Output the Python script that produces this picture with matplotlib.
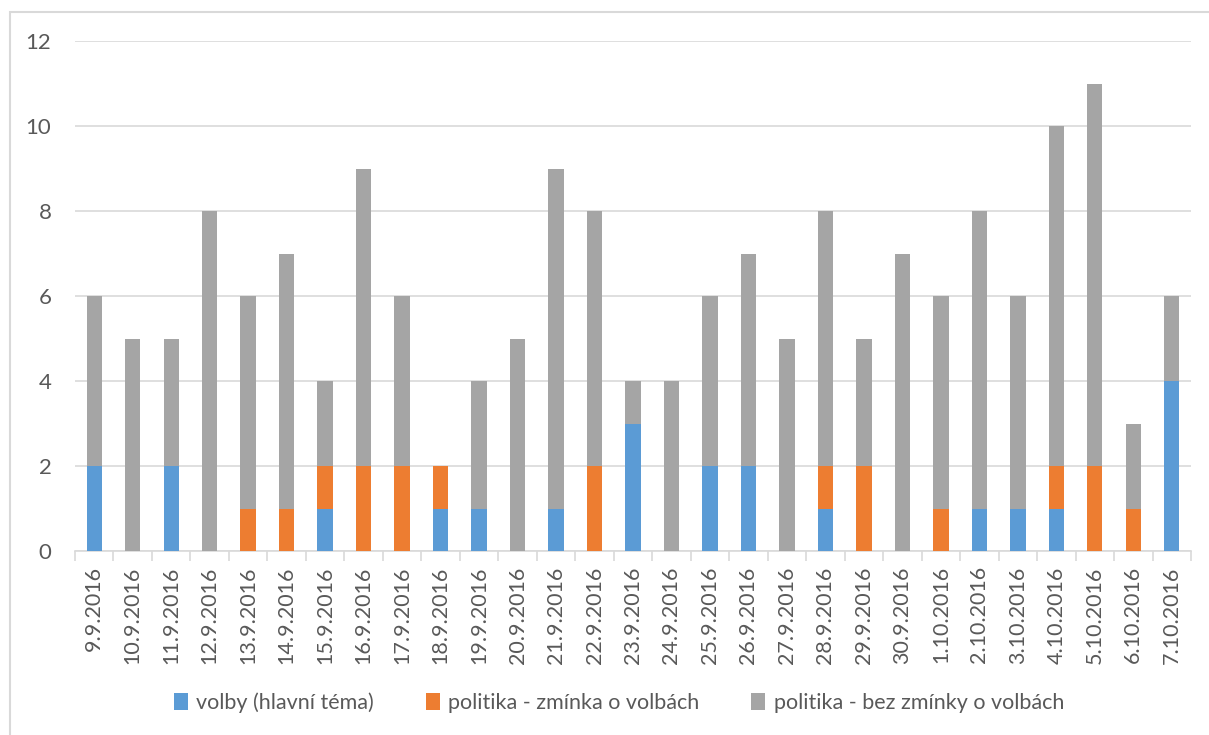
import numpy as np
import matplotlib.pyplot as plt
from matplotlib.patches import Rectangle

plt.rcParams['font.family'] = ['Lato', 'DejaVu Sans']

dates = ['9.9.2016', '10.9.2016', '11.9.2016', '12.9.2016', '13.9.2016', '14.9.2016',
         '15.9.2016', '16.9.2016', '17.9.2016', '18.9.2016', '19.9.2016', '20.9.2016',
         '21.9.2016', '22.9.2016', '23.9.2016', '24.9.2016', '25.9.2016', '26.9.2016',
         '27.9.2016', '28.9.2016', '29.9.2016', '30.9.2016', '1.10.2016', '2.10.2016',
         '3.10.2016', '4.10.2016', '5.10.2016', '6.10.2016', '7.10.2016']
volby = [2, 0, 2, 0, 0, 0, 1, 0, 0, 1, 1, 0, 1, 0, 3, 0, 2, 2, 0, 1, 0, 0, 0, 1, 1, 1, 0, 0, 4]
zminka = [0, 0, 0, 0, 1, 1, 1, 2, 2, 1, 0, 0, 0, 2, 0, 0, 0, 0, 0, 1, 2, 0, 1, 0, 0, 1, 2, 1, 0]
bez = [4, 5, 3, 8, 5, 6, 2, 7, 4, 0, 3, 5, 8, 6, 1, 4, 4, 5, 5, 6, 3, 7, 5, 7, 5, 8, 9, 2, 2]

labels = ['volby (hlavní téma)', 'politika - zmínka o volbách', 'politika - bez zmínky o volbách']
colors = ['#5B9BD5', '#ED7D31', '#A5A5A5']
txt = '#595959'
grid = '#D9D9D9'

fig = plt.figure(figsize=(12.09, 7.35), dpi=100)
ax = fig.add_axes([75 / 1209, 184 / 735, 1116 / 1209, 510 / 735])

x = np.arange(len(dates))
v = np.array(volby)
z = np.array(zminka)
b = np.array(bez)
w = 0.4
ax.bar(x, v, w, color=colors[0], label=labels[0], zorder=3)
ax.bar(x, z, w, bottom=v, color=colors[1], label=labels[1], zorder=3)
ax.bar(x, b, w, bottom=v + z, color=colors[2], label=labels[2], zorder=3)

ax.set_xlim(-0.5, len(dates) - 0.5)
ax.set_ylim(0, 12)
ax.set_yticks(range(0, 13, 2))
ax.yaxis.grid(True, color=grid, linewidth=1.2, zorder=0)
ax.tick_params(axis='y', length=0, labelsize=16, labelcolor=txt, pad=17)
ax.set_xticks(x)
ax.set_xticklabels(dates, rotation=90, fontsize=15.5, color=txt)
ax.tick_params(axis='x', length=0, pad=11)
ax.set_xticks(np.arange(-0.5, len(dates), 1), minor=True)
ax.tick_params(axis='x', which='minor', length=7, color=grid, width=1.2)
for s in ['top', 'right', 'left']:
    ax.spines[s].set_visible(False)
ax.spines['bottom'].set_color(grid)
ax.spines['bottom'].set_linewidth(1.2)

fig.legend(loc='center', bbox_to_anchor=(619 / 1209, 32 / 735), ncol=3, frameon=False,
           fontsize=15.5, labelcolor=txt, handlelength=0.65, handleheight=0.85,
           handletextpad=0.4, columnspacing=2.4)

fig.patches.append(Rectangle((10 / 1209, -0.1), 1.2, 1.1 - 12.5 / 735, transform=fig.transFigure,
                             fill=False, edgecolor=grid, linewidth=1.5))

fig.savefig('out.png', dpi=100)
